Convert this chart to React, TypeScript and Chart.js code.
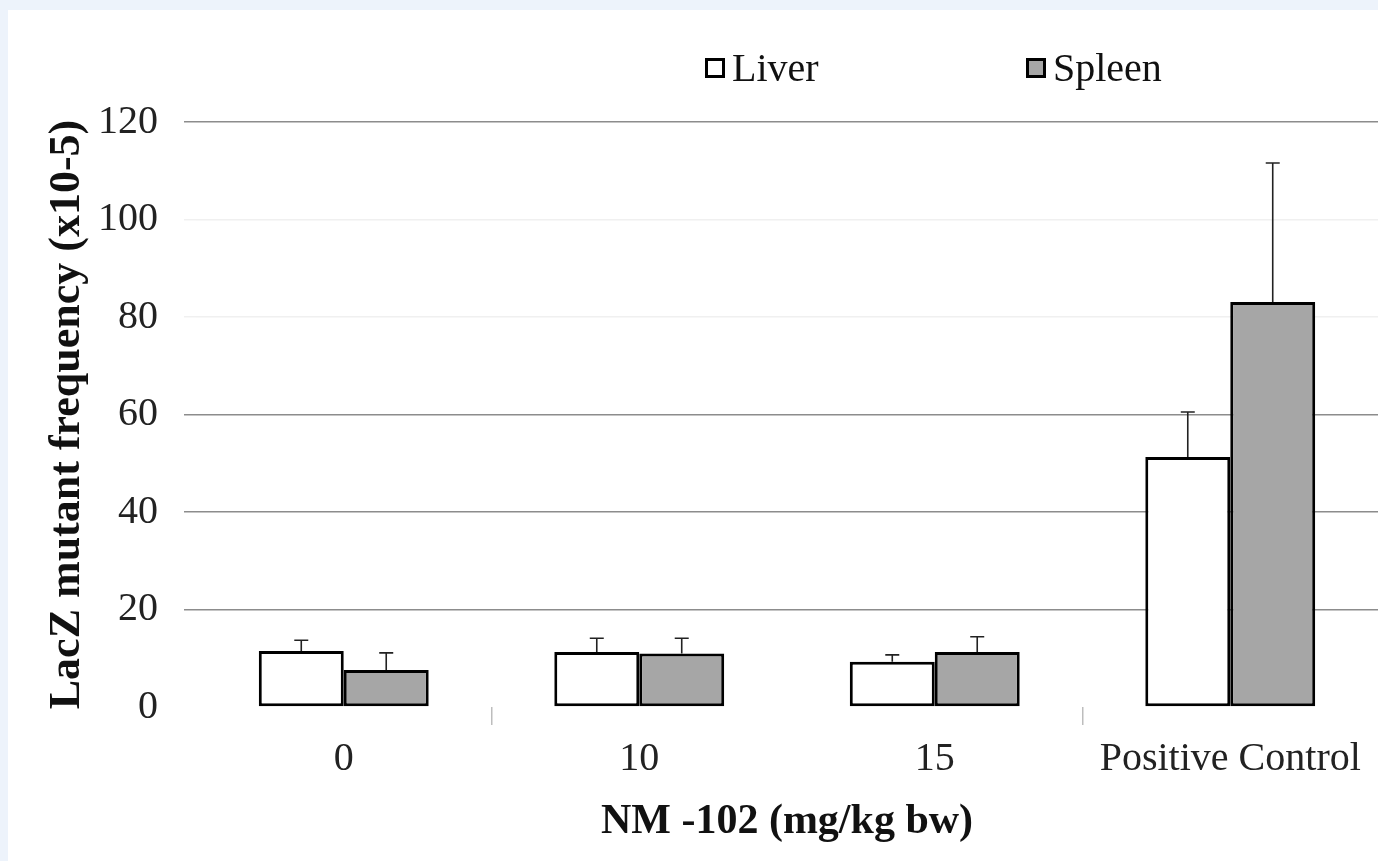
import React, { useEffect, useRef } from "react";
import { Chart, registerables } from "chart.js";

Chart.register(...registerables);

const categories = ["0", "10", "15", "Positive Control"];
const seriesNames = ["Liver", "Spleen"];
const liverValues = [11.5, 11.3, 9.3, 51.3];
const liverErrors = [2.2, 2.8, 1.4, 9.2];
const spleenValues = [7.6, 11.0, 11.3, 83.1];
const spleenErrors = [3.5, 3.1, 3.1, 28.5];
const yTicks = [0, 20, 40, 60, 80, 100, 120];
const yTitle = "LacZ mutant frequency (x10-5)";
const xTitle = "NM -102 (mg/kg bw)";

const SERIF = "'Liberation Serif', 'DejaVu Serif', serif";

const errorBarPlugin = {
  id: "errorBars",
  afterDatasetsDraw(chart: any) {
    const ctx = chart.ctx;
    const yScale = chart.scales.y;
    chart.data.datasets.forEach((ds: any, di: number) => {
      const meta = chart.getDatasetMeta(di);
      const errs: number[] = ds.errors || [];
      meta.data.forEach((bar: any, i: number) => {
        const v = ds.data[i];
        const e = errs[i];
        if (e == null) return;
        const x = bar.x;
        const y0 = yScale.getPixelForValue(v);
        const y1 = yScale.getPixelForValue(v + e);
        ctx.save();
        ctx.strokeStyle = "#222";
        ctx.lineWidth = 1.6;
        ctx.beginPath();
        ctx.moveTo(x, y0);
        ctx.lineTo(x, y1);
        ctx.moveTo(x - 7, y1);
        ctx.lineTo(x + 7, y1);
        ctx.stroke();
        ctx.restore();
      });
    });
  },
};

const legendPlugin = {
  id: "customLegend",
  afterDraw(chart: any) {
    const ctx = chart.ctx;
    const items = [
      { x: 705, ds: 0 },
      { x: 1026, ds: 1 },
    ];
    ctx.save();
    items.forEach((it) => {
      const ds = chart.data.datasets[it.ds];
      const cy = 68;
      ctx.fillStyle = ds.backgroundColor;
      ctx.fillRect(it.x, cy - 10, 20, 20);
      ctx.strokeStyle = "#000";
      ctx.lineWidth = 3;
      ctx.strokeRect(it.x + 1.5, cy - 8.5, 17, 17);
      ctx.fillStyle = "#111";
      ctx.font = `40px ${SERIF}`;
      ctx.textBaseline = "middle";
      ctx.textAlign = "left";
      ctx.fillText(ds.label, it.x + 27, cy + 2);
    });
    ctx.restore();
  },
};

const framePlugin = {
  id: "frame",
  beforeDraw(chart: any) {
    const ctx = chart.ctx;
    ctx.save();
    ctx.fillStyle = "#ffffff";
    ctx.fillRect(0, 0, chart.width, chart.height);
    ctx.fillStyle = "#edf3fb";
    ctx.fillRect(0, 0, chart.width, 10);
    ctx.fillRect(0, 0, 8, chart.height);
    ctx.restore();
  },
};

export default function App() {
  const canvasRef = useRef<HTMLCanvasElement | null>(null);

  useEffect(() => {
    document.body.style.margin = "0";
    const canvas = canvasRef.current;
    if (!canvas) return;
    const chart = new Chart(canvas, {
      type: "bar",
      data: {
        labels: categories,
        datasets: [
          {
            label: seriesNames[0],
            data: liverValues,
            errors: liverErrors,
            backgroundColor: "#ffffff",
            borderColor: "#000000",
            borderWidth: 3,
            borderSkipped: false,
          } as any,
          {
            label: seriesNames[1],
            data: spleenValues,
            errors: spleenErrors,
            backgroundColor: "#a6a6a6",
            borderColor: "#000000",
            borderWidth: 3,
            borderSkipped: false,
          } as any,
        ],
      },
      options: {
        animation: false,
        responsive: false,
        maintainAspectRatio: false,
        layout: { padding: { left: 0, right: 0, top: 122, bottom: 0 } },
        datasets: {
          bar: { categoryPercentage: 0.575, barPercentage: 1 },
        },
        plugins: {
          legend: { display: false },
          tooltip: { enabled: false },
        },
        scales: {
          x: {
            afterFit: (s: any) => {
              s.height = 154;
            },
            border: { display: false },
            grid: {
              offset: true,
              drawOnChartArea: false,
              drawTicks: true,
              tickLength: 18,
              lineWidth: 1.5,
              color: (c: any) => (c.index === 1 || c.index === 3 ? "#bdbdbd" : "rgba(0,0,0,0)"),
            },
            ticks: {
              color: "#222",
              padding: 10,
              font: { family: SERIF, size: 40 },
            },
            title: {
              display: true,
              text: xTitle,
              color: "#111",
              font: { family: SERIF, size: 42, weight: "bold", lineHeight: 1 },
              padding: { top: 0, bottom: 18 },
            },
          },
          y: {
            min: 0,
            max: 120,
            afterFit: (s: any) => {
              s.width = 196;
            },
            afterBuildTicks: (s: any) => {
              s.ticks = yTicks.map((v) => ({ value: v }));
            },
            border: { display: false },
            grid: {
              drawTicks: true,
              tickLength: 12,
              lineWidth: 1.5,
              color: (c: any) => {
                const v = c.tick ? c.tick.value : 0;
                if (v === 0) return "rgba(0,0,0,0)";
                if (v === 80 || v === 100) return "#f0f0f0";
                return "#8c8c8c";
              },
            },
            ticks: {
              color: "#222",
              padding: 26,
              font: { family: SERIF, size: 40 },
            },
            title: {
              display: true,
              text: yTitle,
              color: "#111",
              font: { family: SERIF, size: 44, weight: "bold", lineHeight: 1 },
              padding: { top: 46, bottom: 0 },
            },
          },
        },
      } as any,
      plugins: [framePlugin, errorBarPlugin, legendPlugin],
    });
    return () => chart.destroy();
  }, []);

  return (
    <div style={{ width: 1378, height: 861 }}>
      <canvas ref={canvasRef} width={1378} height={861} style={{ display: "block" }} />
    </div>
  );
}
